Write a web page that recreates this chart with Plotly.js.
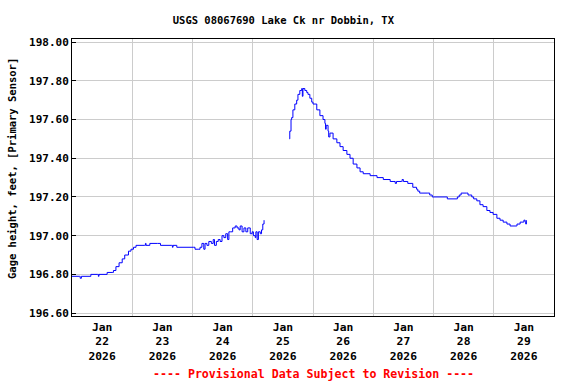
<!DOCTYPE html>
<html>
<head>
<meta charset="utf-8">
<script src="https://cdn.plot.ly/plotly-3.0.1.min.js"></script>
<style>html,body{margin:0;padding:0;background:#fff}#chart{width:576px;height:384px}</style>
</head>
<body>
<div id="chart"></div>
<script>
// Gage height readings (feet); null marks the gap in the record
const times = [
  "2026-01-22 00:00","2026-01-22 03:00","2026-01-22 03:15","2026-01-22 03:45","2026-01-22 07:30",
  "2026-01-22 10:15","2026-01-22 10:30","2026-01-22 10:45","2026-01-22 14:00","2026-01-22 16:00",
  "2026-01-22 16:30","2026-01-22 17:30","2026-01-22 18:45","2026-01-22 20:00","2026-01-22 21:00",
  "2026-01-22 22:30","2026-01-22 23:30","2026-01-23 00:30","2026-01-23 01:30","2026-01-23 05:00",
  "2026-01-23 05:15","2026-01-23 05:30","2026-01-23 07:00","2026-01-23 10:00","2026-01-23 11:15",
  "2026-01-23 15:45","2026-01-23 16:00","2026-01-23 16:15","2026-01-23 17:45","2026-01-24 00:30",
  "2026-01-24 01:00","2026-01-24 02:15","2026-01-24 03:00","2026-01-24 03:45","2026-01-24 04:30",
  "2026-01-24 05:00","2026-01-24 05:45","2026-01-24 06:30","2026-01-24 07:30","2026-01-24 08:15",
  "2026-01-24 08:45","2026-01-24 09:30","2026-01-24 10:15","2026-01-24 11:00","2026-01-24 11:45",
  "2026-01-24 12:30","2026-01-24 13:15","2026-01-24 14:00","2026-01-24 14:30","2026-01-24 15:15",
  "2026-01-24 16:00","2026-01-24 17:00","2026-01-24 17:45","2026-01-24 18:30","2026-01-24 19:00",
  "2026-01-24 19:45","2026-01-24 20:30","2026-01-24 21:15","2026-01-24 22:00","2026-01-24 23:00",
  "2026-01-24 23:45","2026-01-25 00:15","2026-01-25 01:00","2026-01-25 01:15","2026-01-25 01:45",
  "2026-01-25 02:15","2026-01-25 03:00","2026-01-25 03:30","2026-01-25 04:00","2026-01-25 04:30",
  "2026-01-25 09:00",
  "2026-01-25 14:36","2026-01-25 14:45","2026-01-25 15:15","2026-01-25 15:30","2026-01-25 16:00",
  "2026-01-25 16:45","2026-01-25 17:30","2026-01-25 18:00","2026-01-25 18:45","2026-01-25 19:30",
  "2026-01-25 19:45","2026-01-25 20:00","2026-01-25 20:45","2026-01-25 21:30","2026-01-25 22:00",
  "2026-01-25 22:45","2026-01-25 23:30","2026-01-26 00:00","2026-01-26 01:30","2026-01-26 02:45",
  "2026-01-26 04:00","2026-01-26 04:45","2026-01-26 05:00","2026-01-26 05:15","2026-01-26 06:00",
  "2026-01-26 06:15","2026-01-26 06:45","2026-01-26 08:00","2026-01-26 09:30","2026-01-26 10:45",
  "2026-01-26 12:00","2026-01-26 13:30","2026-01-26 14:45","2026-01-26 16:00","2026-01-26 17:30",
  "2026-01-26 18:45","2026-01-26 20:00","2026-01-26 21:30","2026-01-26 22:45","2026-01-27 01:30",
  "2026-01-27 04:00","2026-01-27 06:45","2026-01-27 08:15","2026-01-27 08:45","2026-01-27 09:15",
  "2026-01-27 11:15","2026-01-27 11:30","2026-01-27 12:00","2026-01-27 13:45","2026-01-27 15:45",
  "2026-01-27 17:15","2026-01-27 17:45","2026-01-27 18:30","2026-01-27 21:45","2026-01-27 22:30",
  "2026-01-27 23:30","2026-01-28 05:00","2026-01-28 05:30","2026-01-28 09:00","2026-01-28 09:30",
  "2026-01-28 10:15","2026-01-28 11:00","2026-01-28 13:15","2026-01-28 13:45","2026-01-28 14:30",
  "2026-01-28 15:15","2026-01-28 16:00","2026-01-28 17:15","2026-01-28 18:30","2026-01-28 19:45",
  "2026-01-28 21:15","2026-01-28 22:30","2026-01-28 23:45","2026-01-29 01:15","2026-01-29 02:30",
  "2026-01-29 03:45","2026-01-29 05:15","2026-01-29 06:30","2026-01-29 09:00","2026-01-29 09:15",
  "2026-01-29 10:30","2026-01-29 11:45","2026-01-29 12:00","2026-01-29 12:30","2026-01-29 12:45",
  "2026-01-29 13:00"
];
const gageHeight = [
  196.79,196.79,196.78,196.79,196.80,
  196.80,196.79,196.80,196.81,196.81,
  196.82,196.84,196.86,196.88,196.90,
  196.92,196.93,196.94,196.95,196.95,
  196.96,196.95,196.96,196.96,196.95,
  196.95,196.94,196.95,196.94,196.94,
  196.93,196.93,196.94,196.96,196.93,
  196.96,196.95,196.97,196.96,196.98,
  196.95,196.97,196.98,196.97,197.00,
  196.99,197.01,196.98,197.02,197.02,
  197.04,197.05,197.04,197.03,197.05,
  197.02,197.04,197.02,197.04,197.01,
  197.02,197.00,196.99,197.02,196.98,
  197.02,197.01,197.03,197.06,197.08,
  null,
  197.50,197.54,197.60,197.61,197.65,
  197.68,197.70,197.73,197.75,197.76,
  197.72,197.76,197.75,197.74,197.73,
  197.71,197.69,197.68,197.65,197.62,
  197.60,197.58,197.55,197.57,197.54,
  197.51,197.53,197.50,197.48,197.46,
  197.44,197.42,197.40,197.37,197.35,
  197.33,197.32,197.32,197.31,197.30,
  197.29,197.28,197.28,197.27,197.28,
  197.28,197.29,197.28,197.27,197.25,
  197.24,197.23,197.22,197.22,197.21,
  197.20,197.20,197.19,197.19,197.20,
  197.21,197.22,197.22,197.21,197.21,
  197.20,197.19,197.18,197.16,197.15,
  197.13,197.12,197.11,197.09,197.08,
  197.07,197.06,197.05,197.05,197.06,
  197.07,197.07,197.08,197.07,197.06,
  197.08
];
const dayLabelTimes = ["2026-01-22 12:00","2026-01-23 12:00","2026-01-24 12:00","2026-01-25 12:00",
  "2026-01-26 12:00","2026-01-27 12:00","2026-01-28 12:00","2026-01-29 12:00"];
const dayLabels = ["Jan<br>22<br>2026","Jan<br>23<br>2026","Jan<br>24<br>2026","Jan<br>25<br>2026",
  "Jan<br>26<br>2026","Jan<br>27<br>2026","Jan<br>28<br>2026","Jan<br>29<br>2026"];
const yTicks = [196.6,196.8,197.0,197.2,197.4,197.6,197.8,198.0];
const titleText = "USGS 08067690 Lake Ck nr Dobbin, TX";
const yTitle = "Gage height, feet, [Primary Sensor]";
const footer = "---- Provisional Data Subject to Revision ----";

const mono = "DejaVu Sans Mono, monospace";

const trace = {
  x: times, y: gageHeight, type: "scatter", mode: "lines",
  line: {color: "#0000ff", width: 1, shape: "hv"},
  connectgaps: false, hoverinfo: "skip"
};

const layout = {
  width: 576, height: 384,
  margin: {l: 72, r: 22, t: 39, b: 68},
  paper_bgcolor: "#ffffff", plot_bgcolor: "#ffffff",
  showlegend: false,
  title: {text: titleText, font: {family: mono, size: 10.5, color: "#000", weight: "bold"},
          xref: "container", x: 0.492, xanchor: "center", yref: "container", y: 1 - 20/384, yanchor: "middle"},
  xaxis: {
    type: "date",
    range: ["2026-01-22 00:00", "2026-01-30 00:00"],
    tickmode: "array", tickvals: dayLabelTimes, ticktext: dayLabels,
    ticks: "", showgrid: false, zeroline: false,
    showline: true, mirror: true, linecolor: "#000", linewidth: 1,
    tickfont: {family: mono, size: 11.3, color: "#000", weight: "bold"},
    minor: {tick0: "2026-01-22", dtick: 86400000, showgrid: true, gridcolor: "#cccccc", gridwidth: 1, ticks: ""}
  },
  yaxis: {
    range: [196.585, 198.016],
    tickmode: "array", tickvals: yTicks, tickformat: ".2f",
    ticks: "inside", ticklen: 4, tickcolor: "#000",
    showgrid: true, gridcolor: "#cccccc", gridwidth: 1, zeroline: false,
    showline: true, mirror: true, linecolor: "#000", linewidth: 1,
    tickfont: {family: mono, size: 11, color: "#000", weight: "bold"}
  },
  annotations: [
    {text: yTitle, xref: "paper", yref: "paper", x: (12 - 72) / 482, y: (316 - 169) / 277,
     xanchor: "center", yanchor: "middle", textangle: -90, showarrow: false,
     font: {family: mono, size: 10.5, color: "#000", weight: "bold"}},
    {text: footer, xref: "paper", yref: "paper", x: 0.5, y: (316 - 374) / 277,
     xanchor: "center", yanchor: "middle", showarrow: false,
     font: {family: mono, size: 11.6, color: "#ff0000", weight: "bold"}}
  ]
};

Plotly.newPlot("chart", [trace], layout, {staticPlot: true, displayModeBar: false});
</script>
</body>
</html>
